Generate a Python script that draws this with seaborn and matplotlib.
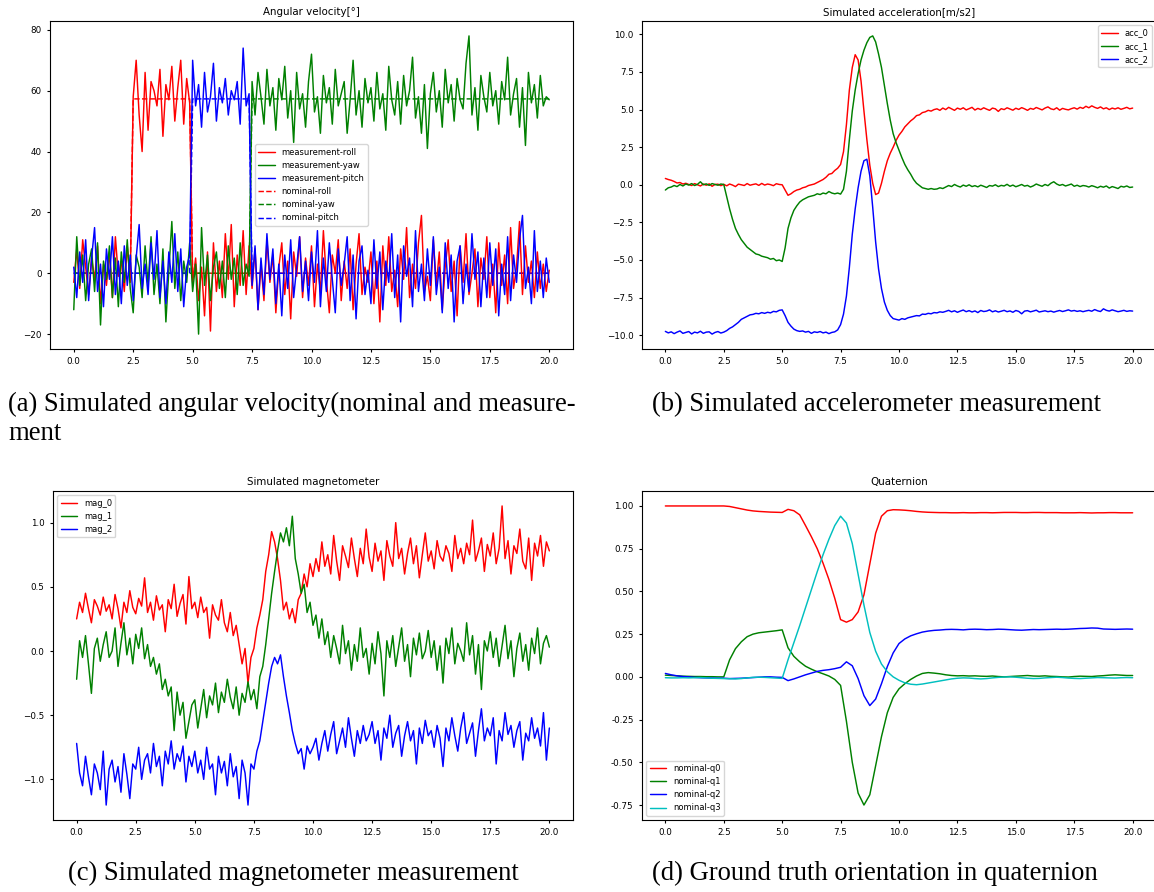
import numpy as np
import matplotlib
matplotlib.use("Agg")
import matplotlib.pyplot as plt
import seaborn as sns

# ---------------- data ----------------
# (a) angular velocity [deg/s], samples every 0.125 s from 0 to 20 s
meas_roll = [-3, 8, -5, 11, 2, -7, 5, -2, 9, -10, 3, -4, 7, -8, 12, -1, 4, -6, 9, -3,
             58, 70, 52, 40, 66, 47, 63, 60, 55, 67, 45, 62, 57, 68, 50, 61, 70, 49, 64, 56,
             -3, 5, -9, 2, -14, 7, -19, 10, -6, 4, -8, 13, -2, 16, -11, 6, -4, 14, -7, 9,
             -5, 8, -12, 3, -9, 11, -3, 6, -13, 2, 10, -7, 4, -15, 7, -1, 12, -8, 5, -4,
             9, -11, 3, -6, 14, -2, -13, 6, 0, 11, -9, 4, -5, 8, -12, 3, 13, -7, 2, -3,
             7, -10, 4, -16, 9, -4, 12, -6, 1, -11, 8, -2, 15, -8, 3, -5, 10, 19, -6, -1,
             -9, 11, -4, 7, -12, 2, 11, -6, 4, -14, 9, -3, 13, -7, 0, 8, -11, 5, -2, 12,
             -8, 3, -13, 10, -4, 6, -10, 15, -5, 2, 17, -7, 9, -3, 4, -8, 7, -5, 3, -6, 1]
meas_yaw = [-12, 12, -4, 6, -9, 3, 8, -6, 10, -17, 4, -2, 9, -8, 5, -11, 7, -3, 11, -5,
            -13, 6, 2, -8, 9, -4, 12, -7, 3, -10, 8, -16, 1, 17, -5, 7, -9, 4, -3, 10,
            -6, 3, -20, 15, -4, 6, -9, 2, 7, -5, 4, -8, 9, -2, 5, -7, 10, -4, 3, -1,
            63, 52, 66, 58, 49, 67, 55, 61, 47, 64, 57, 68, 51, 60, 43, 66, 54, 59, 48, 63,
            72, 53, 58, 46, 65, 56, 61, 49, 67, 55, 59, 63, 46, 57, 70, 52, 60, 48, 64, 56,
            61, 50, 66, 54, 59, 47, 68, 57, 52, 63, 49, 65, 55, 60, 71, 51, 58, 46, 62, 41,
            59, 66, 53, 60, 48, 67, 56, 62, 50, 64, 57, 54, 69, 78, 52, 61, 47, 65, 58, 53,
            66, 55, 60, 49, 63, 57, 71, 52, 59, 64, 48, 61, 42, 66, 56, 62, 51, 65, 55, 58, 57]
meas_pitch = [2, -8, 7, -3, 11, -9, 5, 15, -6, 3, -11, 8, -2, 12, -7, 4, -10, 9, -4, 6,
              -9, 5, 16, -5, 3, -7, 10, -2, 14, -8, 4, -10, 7, -3, 13, -6, 8, -11, 2, 6,
              70, 55, 62, 48, 66, 53, 58, 69, 50, 61, 56, 64, 52, 60, 57, 63, 49, 74, 55, 59,
              -4, 9, -12, 5, -7, 13, -2, 8, -10, 3, -14, 6, -5, 11, -8, 2, 12, -6, 4, -9,
              7, -3, 14, -11, 5, -6, 10, -2, -13, 8, -4, 3, 12, -9, 6, -15, 4, 9, -7, 1,
              -10, 11, -5, 7, -12, 4, -3, 13, -8, 6, -16, 9, -1, 5, -11, 14, -6, 3, -9, 8,
              -4, 12, -7, 2, -13, 10, -5, 6, -16, 4, 9, -10, 3, -6, 13, -2, 7, -11, 5, -8,
              10, -4, 8, -14, 3, -7, 12, -9, 6, -3, 11, 19, -5, 2, -10, 14, -6, 4, -8, 5, -3]
nom_t = [0, 2.375, 2.5, 4.875, 5.0, 7.375, 7.5, 20]
nom_roll = [0, 0, 57.3, 57.3, 0, 0, 0, 0]
nom_yaw = [0, 0, 0, 0, 0, 0, 57.3, 57.3]
nom_pitch = [0, 0, 0, 0, 57.3, 57.3, 0, 0]

# (b) accelerometer [m/s2], samples every 0.125 s
acc_0 = [0.42, 0.35, 0.30, 0.22, 0.12, 0.15, 0.05, 0.10,
         0.02, -0.05, 0.08, 0.00, -0.08, 0.05, -0.03, 0.06, -0.10, 0.02, 0.04, -0.06,
         0.03, -0.07, 0.05, -0.02, -0.12, 0.04, 0.00, -0.05, 0.08, -0.03, 0.02, 0.06, -0.04, 0.09, -0.02, 0.05, 0.01, -0.06, 0.07, 0.02,
         0.00, -0.35, -0.70, -0.60, -0.45, -0.35, -0.30, -0.20, -0.15, -0.05, 0.00, 0.05, 0.15, 0.25, 0.35, 0.50, 0.70, 0.75, 0.95, 1.10,
         1.35, 2.2, 4.0, 6.3, 7.8, 8.65, 8.3, 6.9, 4.9, 3.0, 1.3, 0.1, -0.65, -0.55, 0.1, 0.9, 1.6, 2.1, 2.5, 2.95,
         3.3, 3.55, 3.85, 4.05, 4.25, 4.4, 4.6, 4.65, 4.8, 4.85, 4.95, 4.9, 5.0, 5.05, 4.95, 5.1,
         5.00, 5.15, 5.05, 4.95, 5.10, 5.02, 5.12, 4.98, 5.06, 5.15, 4.97, 5.08, 5.00, 5.12, 5.03, 4.95,
         5.10, 5.05, 4.88, 5.06, 5.00, 5.12, 5.04, 4.96, 5.09, 5.01, 5.13, 5.05, 4.95, 5.08, 5.02, 5.14,
         5.06, 4.98, 5.10, 5.18, 5.05, 5.00, 5.12, 4.96, 5.08, 5.02, 4.98, 5.06, 5.12, 5.03, 5.15, 5.08,
         5.22, 5.12, 5.25, 5.15, 5.08, 5.18, 5.05, 5.12, 5.00, 5.10, 5.04, 5.12, 5.02, 5.08, 5.15, 5.05, 5.10]
acc_1 = [-0.35, -0.20, -0.15, -0.05, -0.12, 0.02, -0.08, 0.05, -0.02, 0.08, -0.05, 0.03, 0.20, 0.00, 0.06, -0.04, 0.08, 0.02, -0.03, 0.05,
         0.02, -0.8, -1.6, -2.3, -2.9, -3.3, -3.65, -3.9, -4.15, -4.3, -4.45, -4.6, -4.65, -4.75, -4.8, -4.85, -4.95, -4.9, -5.05, -5.0,
         -5.1, -4.2, -2.9, -2.2, -1.7, -1.4, -1.15, -1.0, -0.9, -0.8, -0.75, -0.7, -0.6, -0.65, -0.55, -0.6, -0.45, -0.55, -0.6, -0.55,
         -0.62, -0.3, 0.9, 3.0, 4.9, 6.3, 7.4, 8.3, 8.95, 9.45, 9.8, 9.9, 9.5, 8.7, 7.8, 6.6, 5.4, 4.3, 3.4, 2.8,
         2.3, 1.8, 1.35, 1.0, 0.7, 0.35, 0.1, -0.05, -0.2, -0.25, -0.3, -0.25, -0.3, -0.28, -0.2, -0.25,
         -0.15, -0.05, -0.12, 0.02, -0.08, -0.15, -0.02, -0.10, 0.00, -0.12, -0.06, -0.14, -0.03, -0.10, -0.18, -0.05,
         -0.09, 0.00, -0.12, -0.04, -0.08, 0.03, -0.10, -0.02, -0.13, -0.06, 0.02, -0.09, -0.04, -0.15, -0.07, 0.05,
         -0.03, -0.10, 0.02, -0.06, 0.10, 0.20, 0.05, -0.04, 0.02, -0.08, -0.02, 0.05, -0.10, -0.03, -0.12, -0.05,
         -0.08, -0.15, -0.06, -0.12, -0.20, -0.10, -0.16, -0.08, -0.22, -0.12, -0.18, -0.25, -0.10, -0.15, -0.08, -0.18, -0.15]
acc_2 = [-9.75, -9.85, -9.78, -9.90, -9.80, -9.72, -9.88, -9.82, -9.76, -9.92, -9.80, -9.85, -9.74, -9.88, -9.80, -9.78, -9.93, -9.82, -9.76, -9.86,
         -9.80, -9.70, -9.55, -9.45, -9.30, -9.15, -8.95, -8.85, -8.75, -8.65, -8.62, -8.55, -8.58, -8.50, -8.55, -8.48, -8.52, -8.42, -8.45, -8.35,
         -8.32, -8.70, -9.15, -9.40, -9.60, -9.70, -9.75, -9.72, -9.80, -9.75, -9.88, -9.78, -9.82, -9.76, -9.85, -9.80, -9.90, -9.82, -9.78, -9.65,
         -9.30, -8.6, -7.4, -5.5, -3.3, -1.6, -0.2, 0.9, 1.6, 1.7, 0.6, -1.5, -3.8, -5.6, -6.9, -7.8, -8.35, -8.7, -8.9, -8.95,
         -9.0, -8.9, -8.95, -8.85, -8.8, -8.75, -8.7, -8.72, -8.6, -8.62, -8.55, -8.58, -8.5, -8.52, -8.45, -8.48,
         -8.42, -8.35, -8.45, -8.38, -8.48, -8.40, -8.33, -8.44, -8.37, -8.46, -8.39, -8.50, -8.36, -8.43, -8.40, -8.32,
         -8.45, -8.38, -8.46, -8.41, -8.35, -8.44, -8.39, -8.48, -8.36, -8.42, -8.58, -8.40, -8.37, -8.45, -8.40, -8.34,
         -8.46, -8.42, -8.38, -8.44, -8.40, -8.47, -8.41, -8.36, -8.43, -8.38, -8.32, -8.40, -8.36, -8.42, -8.38, -8.44,
         -8.39, -8.35, -8.41, -8.30, -8.38, -8.43, -8.25, -8.35, -8.40, -8.32, -8.38, -8.44, -8.40, -8.35, -8.42, -8.38, -8.40]

# (c) magnetometer, samples every 0.125 s
mag_0 = [0.25, 0.38, 0.30, 0.45, 0.33, 0.22, 0.40, 0.35, 0.28, 0.42, 0.31, 0.36, 0.25, 0.44, 0.33, 0.18, 0.38, 0.30, 0.47, 0.34,
         0.29, 0.41, 0.35, 0.57, 0.30, 0.38, 0.24, 0.43, 0.32, 0.36, 0.15, 0.40, 0.33, 0.52, 0.27, 0.37, 0.44, 0.21, 0.58, 0.33,
         0.38, 0.26, 0.42, 0.30, 0.34, 0.10, 0.36, 0.28, 0.24, 0.40, 0.22, 0.15, 0.30, 0.12, 0.20, 0.05, -0.10, 0.02, -0.25, -0.05,
         0.02, 0.18, 0.28, 0.40, 0.62, 0.75, 0.93, 0.85, 0.72, 0.55, 0.32, 0.38, 0.25, 0.33, 0.22, 0.40, 0.45, 0.60, 0.50, 0.68,
         0.58, 0.72, 0.62, 0.85, 0.66, 0.75, 0.60, 0.90, 0.70, 0.55, 0.82, 0.74, 0.65, 0.88, 0.72, 0.58, 0.80, 0.68, 0.95, 0.73,
         0.62, 0.84, 0.70, 0.78, 0.55, 0.86, 0.74, 0.66, 1.00, 0.72, 0.80, 0.60, 0.76, 0.88, 0.68, 0.82, 0.57, 0.75, 0.92, 0.70,
         0.78, 0.64, 0.86, 0.74, 0.70, 0.82, 0.76, 0.62, 0.90, 0.72, 0.80, 0.68, 0.84, 0.75, 1.02, 0.70, 0.78, 0.88, 0.62, 0.83,
         0.74, 0.92, 0.68, 0.80, 1.13, 0.72, 0.86, 0.60, 0.82, 0.76, 0.95, 0.70, 0.64, 0.88, 0.55, 0.84, 0.74, 0.90, 0.66, 0.85, 0.78]
mag_1 = [-0.22, 0.08, -0.05, 0.12, -0.10, -0.33, 0.02, 0.10, -0.08, 0.05, 0.15, -0.05, 0.00, 0.18, -0.12, 0.06, 0.22, -0.03, 0.10, -0.10,
         0.13, 0.02, 0.18, -0.06, 0.05, -0.12, -0.05, -0.18, -0.10, -0.30, -0.22, -0.35, -0.28, -0.62, -0.32, -0.50, -0.40, -0.68, -0.55, -0.42,
         -0.38, -0.60, -0.45, -0.30, -0.52, -0.35, -0.42, -0.25, -0.48, -0.32, -0.40, -0.22, -0.36, -0.45, -0.28, -0.50, -0.33, -0.40, -0.24, -0.38,
         -0.30, -0.45, -0.20, -0.12, 0.05, 0.25, 0.45, 0.62, 0.78, 0.92, 0.85, 0.96, 0.82, 1.05, 0.72, 0.60, 0.45, 0.52, 0.30, 0.38,
         0.20, 0.28, 0.10, 0.25, 0.05, 0.15, -0.05, 0.12, 0.02, -0.10, 0.20, -0.02, 0.08, -0.15, 0.05, -0.08, 0.18, -0.05, 0.02, -0.18,
         0.06, -0.10, 0.15, -0.02, -0.35, 0.08, -0.05, 0.12, -0.12, 0.03, 0.18, -0.08, 0.05, -0.20, 0.10, -0.03, 0.14, -0.06, 0.00, 0.16,
         -0.05, 0.08, -0.15, 0.04, -0.25, 0.10, -0.02, 0.18, -0.10, 0.06, 0.00, -0.08, 0.22, -0.03, 0.12, -0.18, 0.05, -0.30, 0.08, 0.00,
         0.15, -0.05, 0.10, -0.12, 0.04, 0.20, -0.06, 0.08, -0.20, 0.02, 0.14, -0.08, 0.05, -0.15, 0.10, -0.02, 0.18, -0.10, 0.06, 0.12, 0.03]
mag_2 = [-0.72, -0.95, -1.05, -0.82, -0.98, -1.12, -0.88, -0.95, -1.08, -0.78, -1.20, -0.92, -0.85, -1.02, -0.90, -1.10, -0.80, -0.96, -1.15, -0.88,
         -0.92, -0.75, -1.00, -0.85, -0.80, -0.95, -0.72, -0.90, -0.82, -1.05, -0.78, -0.88, -0.70, -0.92, -0.80, -0.86, -0.74, -1.02, -0.82, -0.90,
         -0.78, -0.95, -0.85, -1.00, -0.75, -0.92, -0.88, -1.12, -0.82, -0.95, -0.86, -1.05, -0.80, -0.98, -0.90, -1.15, -0.85, -0.95, -1.20, -0.88,
         -0.92, -0.78, -0.70, -0.55, -0.40, -0.25, -0.12, -0.05, -0.10, -0.03, -0.20, -0.35, -0.48, -0.62, -0.72, -0.80, -0.76, -0.92, -0.74, -0.80,
         -0.75, -0.68, -0.85, -0.72, -0.62, -0.78, -0.65, -0.55, -0.80, -0.70, -0.60, -0.75, -0.52, -0.68, -0.82, -0.62, -0.72, -0.58, -0.70, -0.65,
         -0.55, -0.72, -0.62, -0.85, -0.60, -0.68, -0.50, -0.75, -0.64, -0.58, -0.82, -0.66, -0.55, -0.70, -0.62, -0.88, -0.60, -0.72, -0.54, -0.66,
         -0.62, -0.75, -0.58, -0.68, -0.90, -0.60, -0.70, -0.52, -0.66, -0.78, -0.60, -0.48, -0.72, -0.64, -0.56, -0.82, -0.62, -0.45, -0.70, -0.60,
         -0.66, -0.52, -0.88, -0.62, -0.70, -0.48, -0.65, -0.58, -0.75, -0.62, -0.55, -0.85, -0.64, -0.70, -0.52, -0.68, -0.60, -0.74, -0.48, -0.85, -0.60]

# (d) quaternion, samples every 0.25 s
q0 = [1.0, 1.0, 1.0, 1.0, 1.0, 1.0, 1.0, 1.0, 1.0, 1.0, 1.0,
      0.997, 0.99, 0.983, 0.976, 0.971, 0.968, 0.966, 0.964, 0.963, 0.962,
      0.98, 0.972, 0.948, 0.885, 0.82, 0.75, 0.665, 0.57, 0.46, 0.335,
      0.32, 0.335, 0.38, 0.48, 0.66, 0.84, 0.94, 0.972, 0.978, 0.977,
      0.975, 0.972, 0.968, 0.965, 0.963, 0.962, 0.961, 0.961,
      0.960, 0.960, 0.961, 0.960, 0.960, 0.961, 0.961, 0.960, 0.961, 0.962, 0.962, 0.962, 0.961, 0.961, 0.962, 0.962,
      0.961, 0.961, 0.961, 0.960, 0.960, 0.960, 0.961, 0.960, 0.959, 0.960, 0.960, 0.961, 0.961, 0.960, 0.960, 0.960]
q1 = [0.01, 0.008, 0.006, 0.004, 0.003, 0.002, 0.002, 0.001, 0.001, 0.0, 0.0,
      0.10, 0.165, 0.205, 0.235, 0.25, 0.258, 0.262, 0.266, 0.27, 0.275,
      0.17, 0.12, 0.088, 0.062, 0.045, 0.03, 0.018, 0.005, -0.015, -0.05,
      -0.26, -0.5, -0.68, -0.75, -0.69, -0.52, -0.35, -0.21, -0.12, -0.07,
      -0.04, -0.015, 0.005, 0.02, 0.025, 0.022, 0.018, 0.012,
      0.008, 0.006, 0.007, 0.005, 0.006, 0.004, 0.003, 0.005, 0.002, 0.0, 0.002, 0.004, 0.006, 0.008, 0.005, 0.004,
      0.006, 0.003, 0.002, 0.0, -0.001, 0.002, 0.004, 0.003, 0.002, 0.005, 0.007, 0.01, 0.012, 0.01, 0.008, 0.008]
q2 = [0.02, 0.012, 0.006, 0.002, 0.0, -0.003, -0.005, -0.006, -0.007, -0.008, -0.008,
      -0.01, -0.009, -0.008, -0.006, -0.004, -0.002, 0.0, 0.0, -0.002, -0.003,
      -0.022, -0.012, 0.0, 0.012, 0.022, 0.032, 0.038, 0.042, 0.048, 0.056,
      0.088, 0.065, -0.01, -0.11, -0.168, -0.13, -0.04, 0.06, 0.14, 0.195,
      0.222, 0.24, 0.252, 0.262, 0.268, 0.272, 0.274, 0.277,
      0.278, 0.277, 0.275, 0.278, 0.279, 0.278, 0.276, 0.277, 0.279, 0.278, 0.276, 0.274, 0.273, 0.275, 0.277, 0.276,
      0.277, 0.278, 0.279, 0.278, 0.279, 0.281, 0.283, 0.284, 0.286, 0.285, 0.28, 0.279, 0.278, 0.279, 0.28, 0.279]
q3 = [-0.005, -0.006, -0.006, -0.005, -0.006, -0.005, -0.004, -0.006, -0.008, -0.009, -0.010,
      -0.011, -0.012, -0.010, -0.006, -0.003, -0.002, -0.003, -0.005, -0.007, -0.009,
      0.1, 0.2, 0.3, 0.405, 0.51, 0.615, 0.715, 0.805, 0.885, 0.94,
      0.9, 0.78, 0.6, 0.42, 0.26, 0.15, 0.075, 0.03, 0.0, -0.02,
      -0.035, -0.043, -0.046, -0.042, -0.036, -0.03, -0.024, -0.018,
      -0.012, -0.008, -0.006, -0.007, -0.01, -0.012, -0.01, -0.006, -0.003, -0.001, 0.0, -0.002, -0.005, -0.008, -0.01, -0.009,
      -0.006, -0.004, -0.002, -0.004, -0.007, -0.009, -0.01, -0.008, -0.006, -0.004, -0.005, -0.006, -0.007, -0.005, -0.004, -0.005]

titles = ["Angular velocity[°]", "Simulated acceleration[m/s2]",
          "Simulated magnetometer", "Quaternion"]
captions = ["(a) Simulated angular velocity(nominal and measure-\nment",
            "(b) Simulated accelerometer measurement",
            "(c) Simulated magnetometer measurement",
            "(d) Ground truth orientation in quaternion"]

# ---------------- style ----------------
sns.set_style("ticks", rc={"axes.edgecolor": "black", "xtick.color": "black",
                           "ytick.color": "black", "text.color": "black",
                           "axes.labelcolor": "black"})
plt.rcParams["font.family"] = ["DejaVu Sans"]
plt.rcParams["axes.linewidth"] = 0.8
plt.rcParams["xtick.major.size"] = 2.5
plt.rcParams["ytick.major.size"] = 2.5
plt.rcParams["xtick.labelsize"] = 6.3
plt.rcParams["ytick.labelsize"] = 6.3

W, H = 1154, 892
fig = plt.figure(figsize=(W / 100, H / 100), dpi=100)


def rect(l, t, r, b):
    return [l / W, 1 - b / H, (r - l) / W, (b - t) / H]


axA = fig.add_axes(rect(50, 21, 573, 349))
axB = fig.add_axes(rect(642, 21, 1156, 349))
axC = fig.add_axes(rect(53, 491, 573, 820))
axD = fig.add_axes(rect(642, 491, 1156, 820))

LW = 1.05


def tline(ax, vals, color, label, ls="-", t=None, z=2):
    vals = np.asarray(vals, dtype=float)
    if t is None:
        t = np.linspace(0, 20, len(vals))
    sns.lineplot(x=t, y=vals, ax=ax, color=color, label=label, lw=LW,
                 linestyle=ls, estimator=None, sort=False, zorder=z)


# (a)
tline(axA, meas_roll, "red", "measurement-roll")
tline(axA, meas_yaw, "green", "measurement-yaw")
tline(axA, meas_pitch, "blue", "measurement-pitch")
tline(axA, nom_roll, "red", "nominal-roll", "--", nom_t, 1.5)
tline(axA, nom_yaw, "green", "nominal-yaw", "--", nom_t, 1.5)
tline(axA, nom_pitch, "blue", "nominal-pitch", "--", nom_t, 1.5)
axA.legend(loc="center", fontsize=6)

# (b)
tline(axB, acc_0, "red", "acc_0")
tline(axB, acc_1, "green", "acc_1")
tline(axB, acc_2, "blue", "acc_2")
axB.legend(loc="upper right", fontsize=6)

# (c)
tline(axC, mag_0, "red", "mag_0")
tline(axC, mag_1, "green", "mag_1")
tline(axC, mag_2, "blue", "mag_2")
axC.legend(loc="upper left", fontsize=6)

# (d)
tline(axD, q0, "red", "nominal-q0")
tline(axD, q1, "green", "nominal-q1")
tline(axD, q2, "blue", "nominal-q2")
tline(axD, q3, "c", "nominal-q3")
axD.legend(loc="lower left", fontsize=6)

for ax, title in zip([axA, axB, axC, axD], titles):
    ax.set_title(title, fontsize=7.4, pad=4)
    ax.set_xlabel("")
    ax.set_ylabel("")
    ax.set_xticks([0, 2.5, 5, 7.5, 10, 12.5, 15, 17.5, 20])
    for s in ax.spines.values():
        s.set_visible(True)

axB.set_yticks([-10, -7.5, -5, -2.5, 0, 2.5, 5, 7.5, 10])
axD.set_yticks([-0.75, -0.5, -0.25, 0, 0.25, 0.5, 0.75, 1.0])
axD.yaxis.set_major_formatter(matplotlib.ticker.FormatStrFormatter("%.2f"))

cap_kw = dict(family=["Liberation Serif", "DejaVu Serif"], fontsize=19.2,
              va="center", ha="left", linespacing=1.17)
fig.text(8 / W, 1 - 419 / H, captions[0], **cap_kw)
fig.text(652 / W, 1 - 405 / H, captions[1], **cap_kw)
fig.text(68 / W, 1 - 873 / H, captions[2], **cap_kw)
fig.text(652 / W, 1 - 873 / H, captions[3], **cap_kw)

fig.savefig("out.png", dpi=100)
